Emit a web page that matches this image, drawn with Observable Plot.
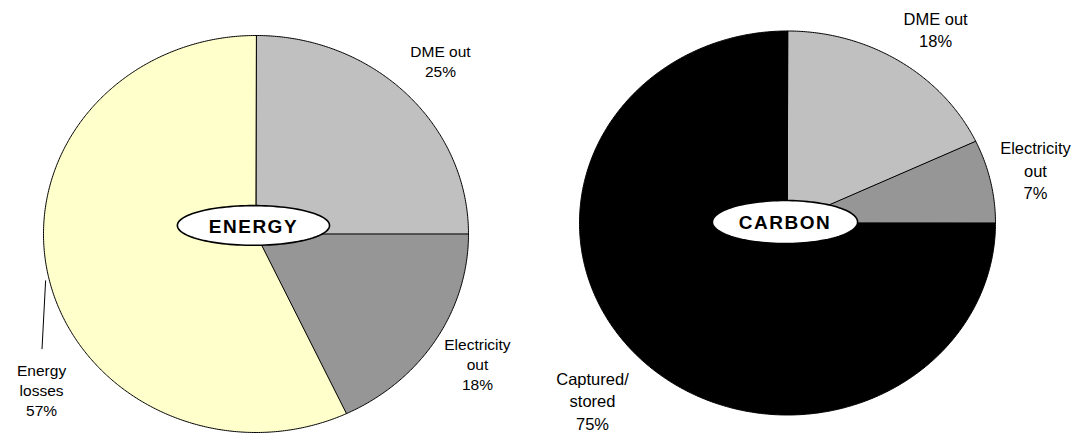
<!DOCTYPE html>
<html><head><meta charset="utf-8">
<script src="https://cdn.jsdelivr.net/npm/d3@7"></script>
<script src="https://cdn.jsdelivr.net/npm/@observablehq/plot@0.6"></script>
<style>
html,body{margin:0;padding:0;background:#fff;}
#wrap{display:flex;width:1073px;height:433px;overflow:hidden;}
#wrap svg{font-family:"Liberation Sans",Arial,sans-serif;background:#fff;}
g[font-weight="bold"] text{letter-spacing:1.5px;}
</style></head><body><div id="wrap"></div>
<script>
// ---- data ----
const energyCategories = ["DME out", "Electricity out", "Energy losses"];
const energyValues = [25, 18, 57];
const energyLabels = ["DME out\n25%", "Electricity\nout\n18%", "Energy\nlosses\n57%"];
const energyColors = ["#c0c0c0", "#969696", "#ffffcc"];
const energyTitle = "ENERGY";

const carbonCategories = ["DME out", "Electricity out", "Captured/stored"];
const carbonValues = [18, 7, 75];
const carbonLabels = ["DME out\n18%", "Electricity\nout\n7%", "Captured/\nstored\n75%"];
const carbonColors = ["#c0c0c0", "#969696", "#000000"];
const carbonTitle = "CARBON";

// label anchors in pie units (radius = 1, y up)
const energyLabelX = [0.868, 1.042, -1.009];
const energyLabelY = [0.874, -0.652, -0.783];
const carbonLabelX = [0.712, 1.192, -0.9375];
const carbonLabelY = [1.01, 0.279, -0.922];

function piePlot(o) {
  const total = d3.sum(o.values);
  const rows = [];
  let acc = 0;
  o.values.forEach((v, i) => {
    const a0 = acc / total * 2 * Math.PI;
    acc += v;
    const a1 = acc / total * 2 * Math.PI;
    const pts = [{x: 0, y: 0}];
    const n = Math.max(2, Math.ceil((a1 - a0) / (Math.PI / 360)));
    for (let k = 0; k <= n; k++) {
      const a = a0 + (a1 - a0) * k / n;
      pts.push({x: Math.sin(a), y: Math.cos(a)});
    }
    rows.push({cat: o.categories[i], color: o.colors[i], pts});
  });
  const ell = [];
  for (let k = 0; k < 120; k++) {
    const a = k / 120 * 2 * Math.PI;
    ell.push({x: o.ell.cx + o.ell.rx * Math.cos(a), y: o.ell.cy + o.ell.ry * Math.sin(a)});
  }
  const labelRows = o.labels.map((t, i) => ({text: t, x: o.labelX[i], y: o.labelY[i]}));
  const marks = rows.map(r => Plot.line(r.pts, {x: "x", y: "y", fill: r.color, stroke: "#000", strokeWidth: 1, curve: "linear-closed"}));
  if (o.leader) marks.push(Plot.link([o.leader], {x1: "x1", y1: "y1", x2: "x2", y2: "y2", stroke: "#000", strokeWidth: 1}));
  marks.push(Plot.text(labelRows, {x: "x", y: "y", text: "text", fontSize: o.fontSize, lineHeight: o.lineHeight, textAnchor: "middle", lineAnchor: "middle", fill: "#000"}));
  marks.push(Plot.line(ell, {x: "x", y: "y", fill: "#fff", stroke: "#000", strokeWidth: 1.6, curve: "linear-closed"}));
  marks.push(Plot.text([o.title], {x: o.ell.cx, y: o.ell.cy, text: d => d, fontSize: 19, fontWeight: "bold", fill: "#000", textAnchor: "middle", lineAnchor: "middle", dy: 1}));
  return Plot.plot({
    width: o.width, height: 433,
    marginLeft: o.m[0], marginRight: o.m[1], marginTop: o.m[2], marginBottom: o.m[3],
    x: {domain: [-1, 1], axis: null},
    y: {domain: [-1, 1], axis: null},
    style: {fontFamily: '"Liberation Sans", Arial, sans-serif', overflow: "visible"},
    marks
  });
}

const left = piePlot({
  width: 536, m: [43, 68, 35, 1],
  categories: energyCategories, values: energyValues, colors: energyColors,
  labels: energyLabels, labelX: energyLabelX, labelY: energyLabelY,
  fontSize: 15.5, lineHeight: 1.32,
  title: energyTitle, ell: {cx: -0.012, cy: 0.043, rx: 0.358, ry: 0.1},
  leader: {x1: -0.99, y1: -0.234, x2: -1.007, y2: -0.58}
});
const right = piePlot({
  width: 537, m: [43, 78, 30.5, 18.5],
  categories: carbonCategories, values: carbonValues, colors: carbonColors,
  labels: carbonLabels, labelX: carbonLabelX, labelY: carbonLabelY,
  fontSize: 16.5, lineHeight: 1.36,
  title: carbonTitle, ell: {cx: -0.012, cy: 0.005, rx: 0.349, ry: 0.112}
});
document.getElementById("wrap").append(left, right);
</script></body></html>
